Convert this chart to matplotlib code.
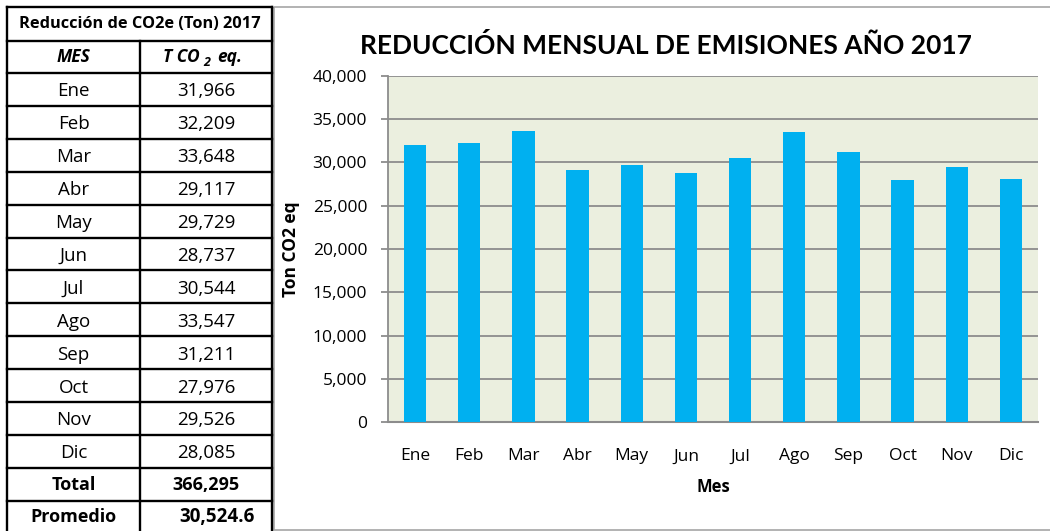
import matplotlib
matplotlib.use("Agg")
import matplotlib.pyplot as plt
from matplotlib.patches import Rectangle
from matplotlib.ticker import FuncFormatter

months = ["Ene", "Feb", "Mar", "Abr", "May", "Jun", "Jul", "Ago", "Sep", "Oct", "Nov", "Dic"]
values = [31966, 32209, 33648, 29117, 29729, 28737, 30544, 33547, 31211, 27976, 29526, 28085]
yticks = [0, 5000, 10000, 15000, 20000, 25000, 30000, 35000, 40000]

title = "REDUCCIÓN MENSUAL DE EMISIONES AÑO 2017"
table_title = "Reducción de CO2e (Ton) 2017"

BODY = ['Open Sans', 'DejaVu Sans']
plt.rcParams['font.family'] = BODY

W, H = 1050, 531
fig = plt.figure(figsize=(W / 100, H / 100), dpi=100)

# overlay axes in pixel coordinates
ov = fig.add_axes([0, 0, 1, 1])
ov.set_xlim(0, W)
ov.set_ylim(H, 0)
ov.axis('off')

# chart frame
ov.add_patch(Rectangle((274, 7), W - 274 + 5, 523, fill=False, edgecolor='#A6A6A6', lw=1.2))

# table
x0, xm, x1 = 7, 140, 272
row_edges = [7, 41, 73]
for i in range(14):
    row_edges.append(73 + 32.9 * (i + 1))
lw = 1.7
ov.plot([x0, x0], [7, H + 2], color='black', lw=lw)
ov.plot([x1, x1], [7, H + 2], color='black', lw=lw)
ov.plot([xm, xm], [41, H + 2], color='black', lw=lw)
for y in row_edges:
    ov.plot([x0, x1], [y, y], color='black', lw=lw)

ov.text((x0 + x1) / 2, 24, table_title, ha='center', va='center', fontsize=11.8, fontweight='bold')
ov.text((x0 + xm) / 2, 57, "MES", ha='center', va='center', fontsize=12.5, fontweight='bold', style='italic')
ov.text(200, 57, "T CO", ha='right', va='center', fontsize=12.5, fontweight='bold', style='italic')
ov.text(203, 63, "2", ha='left', va='center', fontsize=9, fontweight='bold', style='italic')
ov.text(217, 57, "eq.", ha='left', va='center', fontsize=12.5, fontweight='bold', style='italic')

for i, (m, v) in enumerate(zip(months, values)):
    yc = (row_edges[2 + i] + row_edges[3 + i]) / 2 + 2
    ov.text((x0 + xm) / 2, yc, m, ha='center', va='center', fontsize=13.5)
    ov.text((xm + x1) / 2, yc, f"{v:,}", ha='center', va='center', fontsize=13.5)

total = sum(values)
avg = total / len(values)
yc = (row_edges[14] + row_edges[15]) / 2 + 1
ov.text((x0 + xm) / 2, yc, "Total", ha='center', va='center', fontsize=13, fontweight='bold')
ov.text((xm + x1) / 2, yc, f"{total:,}", ha='center', va='center', fontsize=13, fontweight='bold')
yc = row_edges[15] + 16
ov.text((x0 + xm) / 2, yc, "Promedio", ha='center', va='center', fontsize=13, fontweight='bold')
ov.text((xm + x1) / 2 + 11, yc, f"{avg:,.1f}", ha='center', va='center', fontsize=13.5, fontweight='bold')

# chart
ax = fig.add_axes([388 / W, 1 - 422 / H, (1038 - 388) / W, (422 - 76) / H])
ax.set_facecolor('#EBEFDF')
x = list(range(len(months)))
ax.bar(x, values, width=0.41, color='#00B0F0', zorder=3)
ax.set_xlim(-0.5, len(months) - 0.5)
ax.set_ylim(0, 40000)
ax.set_yticks(yticks)
ax.yaxis.set_major_formatter(FuncFormatter(lambda v, p: f"{int(v):,}"))
ax.set_xticks(x)
ax.set_xticklabels(months)
ax.grid(axis='y', color='#8C8C8C', lw=1.3, zorder=1)
for s in ['top', 'right']:
    ax.spines[s].set_visible(False)
ax.spines['left'].set_color('#8C8C8C')
ax.spines['bottom'].set_color('#8C8C8C')
ax.spines['left'].set_linewidth(1.3)
ax.spines['bottom'].set_linewidth(1.5)
ax.tick_params(axis='y', length=5, color='#8C8C8C', width=1.3, labelsize=12.5, pad=10)
ax.tick_params(axis='x', length=0, labelsize=12.5, pad=19)
ax.set_xlabel("Mes", fontsize=12, fontweight='bold', labelpad=10)
ax.set_ylabel("Ton CO2 eq", fontsize=12.5, fontweight='bold', labelpad=9)

fig.text(666 / W, 1 - 45 / H, title, ha='center', va='center', fontsize=19,
         fontweight='bold', family=['Lato', 'DejaVu Sans'])

fig.savefig("out.png", dpi=100)
